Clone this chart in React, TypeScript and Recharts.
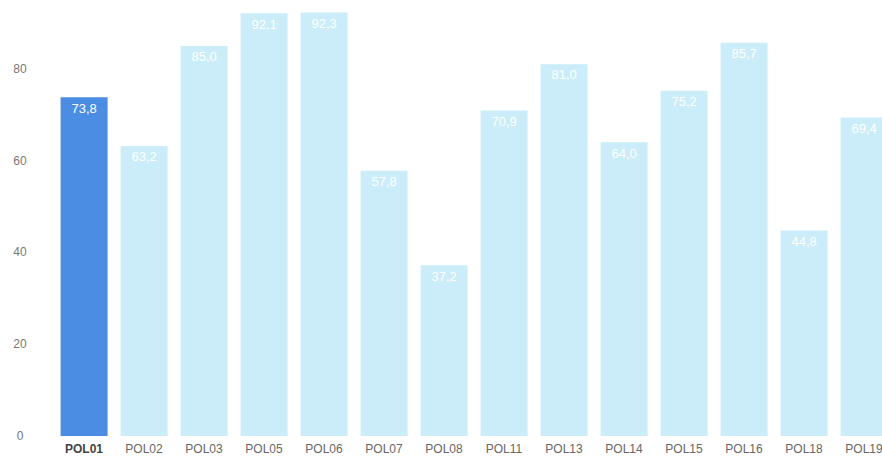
import React from "react";
import { BarChart, Bar, XAxis, YAxis, Cell, LabelList } from "recharts";

const categories = ["POL01", "POL02", "POL03", "POL05", "POL06", "POL07", "POL08", "POL11", "POL13", "POL14", "POL15", "POL16", "POL18", "POL19"];
const values = [73.8, 63.2, 85.0, 92.1, 92.3, 57.8, 37.2, 70.9, 81.0, 64.0, 75.2, 85.7, 44.8, 69.4];
const yTicks = [0, 20, 40, 60, 80];
const highlight = "POL01";

const data = categories.map((c, i) => ({ name: c, value: values[i] }));

const fmt = (v: number) => v.toFixed(1).replace(".", ",");

const XTick = (props: any) => {
  const { x, y, payload } = props;
  const hi = payload.value === highlight;
  return (
    <text
      x={x}
      y={y + 9}
      textAnchor="middle"
      fontFamily="Liberation Sans, Arial, sans-serif"
      fontSize={12}
      fontWeight={hi ? "bold" : "normal"}
      fill={hi ? "#444" : "#666"}
    >
      {payload.value}
    </text>
  );
};

const YTick = (props: any) => {
  const { y, payload } = props;
  return (
    <text
      x={20}
      y={y + 4}
      textAnchor="middle"
      fontFamily="Liberation Sans, Arial, sans-serif"
      fontSize={12}
      fill="#777"
    >
      {payload.value}
    </text>
  );
};

export default function App() {
  return (
    <div style={{ position: "absolute", left: 0, top: 0, width: 882, height: 457, overflow: "hidden", background: "#fff" }}>
      <BarChart
        width={894}
        height={457}
        data={data}
        margin={{ top: 0, right: 0, bottom: 0, left: 0 }}
        barCategoryGap="11%"
      >
        <XAxis dataKey="name" axisLine={false} tickLine={false} tick={<XTick />} height={21} interval={0} />
        <YAxis domain={[0, 95]} ticks={yTicks} axisLine={false} tickLine={false} tick={<YTick />} width={54} />
        <Bar dataKey="value" isAnimationActive={false}>
          {data.map((d) => (
            <Cell key={d.name} fill={d.name === highlight ? "#4a8de2" : "#caedf9"} />
          ))}
          <LabelList
            dataKey="value"
            position="insideTop"
            offset={6}
            formatter={(v: any) => fmt(Number(v))}
            fill="#ffffff"
            fontSize={13}
            fontFamily="Liberation Sans, Arial, sans-serif"
          />
        </Bar>
      </BarChart>
    </div>
  );
}
